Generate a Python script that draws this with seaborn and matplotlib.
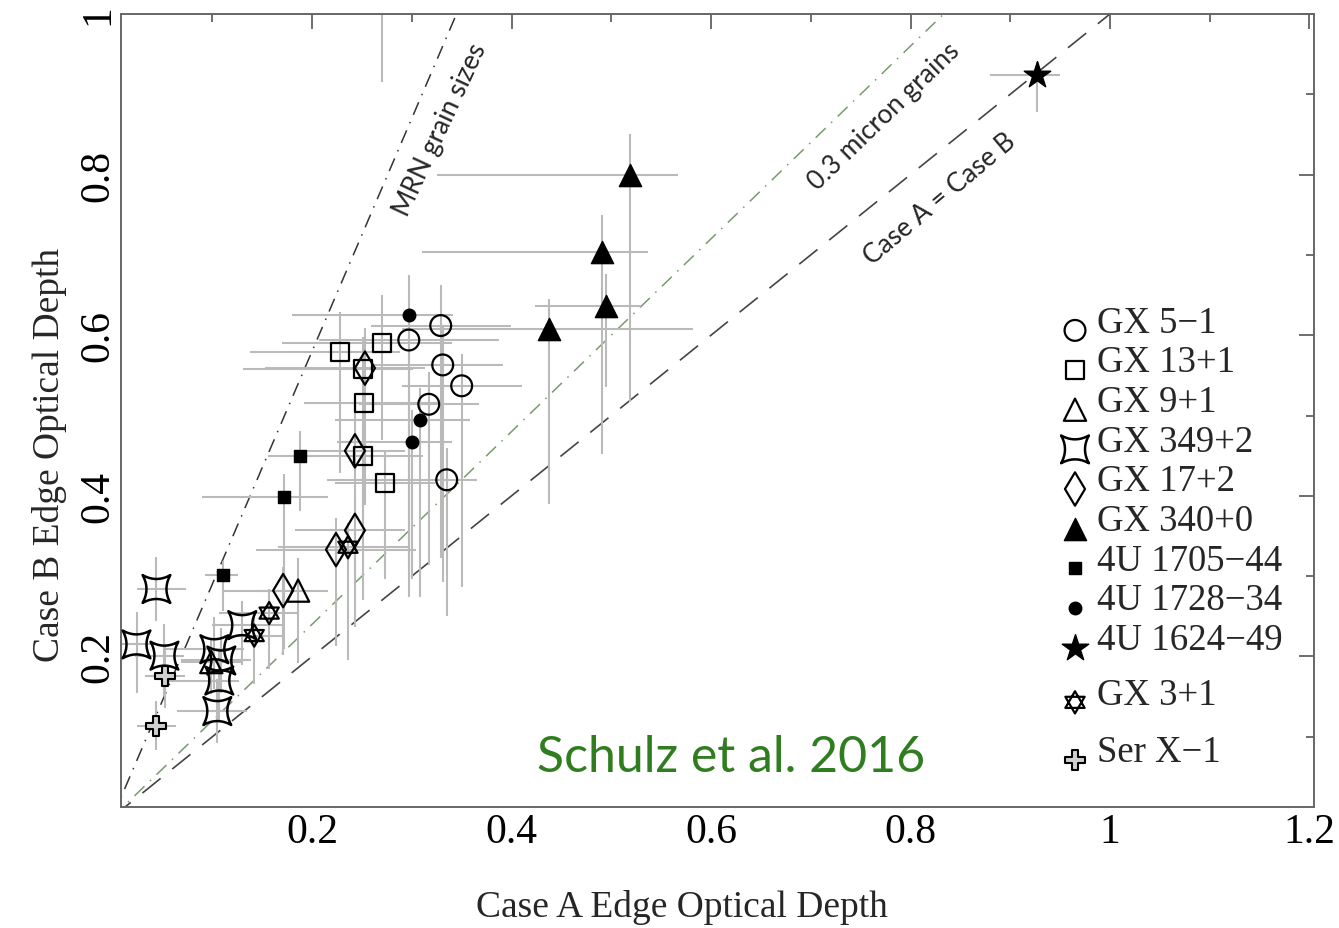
import numpy as np
import matplotlib
matplotlib.use("Agg")
import matplotlib.pyplot as plt
from matplotlib.path import Path
import seaborn as sns

# ---------------- data ----------------
gx51_x = [0.329, 0.297, 0.331, 0.350, 0.317, 0.335]
gx51_y = [0.612, 0.594, 0.563, 0.537, 0.514, 0.420]
gx51_xlo = [0.07, 0.09, 0.07, 0.06, 0.07, 0.12]
gx51_xhi = [0.07, 0.09, 0.06, 0.06, 0.05, 0.03]
gx51_ylo = [0.29, 0.32, 0.27, 0.25, 0.20, 0.17]
gx51_yhi = [0.05, 0.05, 0.05, 0.04, 0.04, 0.04]

gx131_x = [0.228, 0.270, 0.251, 0.252, 0.251, 0.273, 0.270]
gx131_y = [0.579, 0.590, 0.558, 0.516, 0.450, 0.416, 1.080]
gx131_xlo = [0.09, 0.10, 0.12, 0.06, 0.08, 0.05, 0.0]
gx131_xhi = [0.06, 0.07, 0.05, 0.08, 0.06, 0.05, 0.0]
gx131_ylo = [0.15, 0.12, 0.20, 0.12, 0.18, 0.12, 0.165]
gx131_yhi = [0.05, 0.06, 0.04, 0.05, 0.04, 0.04, 0.0]

gx91_x = [0.186, 0.099]
gx91_y = [0.282, 0.193]
gx91_xlo = [0.04, 0.03]
gx91_xhi = [0.03, 0.03]
gx91_ylo = [0.09, 0.04]
gx91_yhi = [0.04, 0.03]

gx349_x = [0.044, 0.024, 0.052, 0.102, 0.109, 0.107, 0.105, 0.130]
gx349_y = [0.284, 0.215, 0.201, 0.209, 0.195, 0.170, 0.132, 0.239]
gx349_xlo = [0.02, 0.02, 0.03, 0.05, 0.04, 0.05, 0.04, 0.03]
gx349_xhi = [0.03, 0.02, 0.02, 0.03, 0.03, 0.02, 0.03, 0.04]
gx349_ylo = [0.04, 0.06, 0.05, 0.05, 0.04, 0.05, 0.04, 0.05]
gx349_yhi = [0.04, 0.04, 0.04, 0.04, 0.04, 0.04, 0.04, 0.03]

gx172_x = [0.253, 0.243, 0.243, 0.224, 0.171]
gx172_y = [0.559, 0.456, 0.357, 0.333, 0.282]
gx172_xlo = [0.10, 0.05, 0.06, 0.08, 0.06]
gx172_xhi = [0.06, 0.05, 0.05, 0.08, 0.03]
gx172_ylo = [0.17, 0.16, 0.12, 0.12, 0.08]
gx172_yhi = [0.05, 0.05, 0.04, 0.04, 0.03]

gx340_x = [0.519, 0.491, 0.495, 0.438]
gx340_y = [0.799, 0.704, 0.636, 0.608]
gx340_xlo = [0.194, 0.181, 0.071, 0.148]
gx340_xhi = [0.048, 0.046, 0.035, 0.144]
gx340_ylo = [0.282, 0.252, 0.101, 0.218]
gx340_yhi = [0.052, 0.046, 0.040, 0.037]

u1705_x = [0.188, 0.172, 0.111]
u1705_y = [0.450, 0.399, 0.302]
u1705_xlo = [0.032, 0.082, 0.018]
u1705_xhi = [0.017, 0.044, 0.015]
u1705_ylo = [0.069, 0.190, 0.045]
u1705_yhi = [0.031, 0.028, 0.017]

u1728_x = [0.297, 0.308, 0.300]
u1728_y = [0.625, 0.494, 0.467]
u1728_xlo = [0.117, 0.085, 0.075]
u1728_xhi = [0.044, 0.050, 0.040]
u1728_ylo = [0.320, 0.220, 0.170]
u1728_yhi = [0.050, 0.040, 0.040]

u1624_x = [0.927]
u1624_y = [0.924]
u1624_xlo = [0.047]
u1624_xhi = [0.023]
u1624_ylo = [0.046]
u1624_yhi = [0.016]

gx31_x = [0.157, 0.142, 0.236]
gx31_y = [0.254, 0.226, 0.336]
gx31_xlo = [0.05, 0.03, 0.07]
gx31_xhi = [0.03, 0.03, 0.06]
gx31_ylo = [0.07, 0.06, 0.14]
gx31_yhi = [0.03, 0.03, 0.03]

serx1_x = [0.053, 0.044]
serx1_y = [0.176, 0.114]
serx1_xlo = [0.02, 0.02]
serx1_xhi = [0.02, 0.02]
serx1_ylo = [0.04, 0.03]
serx1_yhi = [0.04, 0.03]

source_names = ["GX 5\u22121", "GX 13+1", "GX 9+1", "GX 349+2", "GX 17+2",
                "GX 340+0", "4U 1705\u221244", "4U 1728\u221234", "4U 1624\u221249",
                "GX 3+1", "Ser X\u22121"]

line_labels = ["MRN grain sizes", "0.3 micron grains", "Case A = Case B"]
line_slopes = [2.9, 1.2, 1.0]

x_ticks = [0.2, 0.4, 0.6, 0.8, 1.0, 1.2]
x_ticklabels = ["0.2", "0.4", "0.6", "0.8", "1", "1.2"]
y_ticks = [0.2, 0.4, 0.6, 0.8, 1.0]
y_ticklabels = ["0.2", "0.4", "0.6", "0.8", "1"]

# ---------------- custom markers ----------------
def concave_square(depth=0.28, n=12):
    t = np.linspace(-1, 1, n)
    bow = depth * (1 - t ** 2)
    top = np.column_stack([t, 1 - bow])
    right = np.column_stack([1 - bow, -t])
    bottom = np.column_stack([-t, -1 + bow])
    left = np.column_stack([-1 + bow, t])
    v = np.vstack([top, right[1:], bottom[1:], left[1:]])
    return Path(v, closed=True)

def hexagram():
    s = np.sqrt(3) / 2
    verts = [(0, 1), (-s, -0.5), (s, -0.5), (0, 1),
             (0, -1), (-s, 0.5), (s, 0.5), (0, -1)]
    codes = [Path.MOVETO, Path.LINETO, Path.LINETO, Path.CLOSEPOLY] * 2
    return Path(verts, codes)

CSQ = concave_square()
HEX = hexagram()

# ---------------- figure ----------------
sns.set_style("white")
plt.rcParams["font.family"] = ["Liberation Serif", "DejaVu Serif"]

fig = plt.figure(figsize=(13.39, 9.29), dpi=100)
ax = fig.add_axes([0.0904, 0.1302, 0.8909, 0.8537])
ax.set_xlim(0.0085, 1.2045)
ax.set_ylim(0.0125, 1.0)

# reference lines
xx = np.array([0.0, 1.3])
ax.plot(xx, line_slopes[0] * xx, color="#333333", lw=1.1,
        dashes=(9, 5, 1, 5), zorder=1)
ax.plot(xx, line_slopes[1] * xx, color="#7a9a6e", lw=1.1,
        dashes=(9, 5, 1, 5), zorder=1)
ax.plot(xx, line_slopes[2] * xx, color="#444444", lw=1.2,
        dashes=(14, 9), zorder=1)

sources = [
    # x, y, xlo, xhi, ylo, yhi, marker, size, face, edge, lw
    (gx51_x, gx51_y, gx51_xlo, gx51_xhi, gx51_ylo, gx51_yhi, "o", 15, "none", "black", 1.6),
    (gx131_x, gx131_y, gx131_xlo, gx131_xhi, gx131_ylo, gx131_yhi, "s", 13, "none", "black", 1.6),
    (gx91_x, gx91_y, gx91_xlo, gx91_xhi, gx91_ylo, gx91_yhi, "^", 16, "none", "black", 1.6),
    (gx349_x, gx349_y, gx349_xlo, gx349_xhi, gx349_ylo, gx349_yhi, CSQ, 20, "none", "black", 1.8),
    (gx172_x, gx172_y, gx172_xlo, gx172_xhi, gx172_ylo, gx172_yhi, "d", 17, "none", "black", 1.6),
    (gx340_x, gx340_y, gx340_xlo, gx340_xhi, gx340_ylo, gx340_yhi, "^", 16, "black", "black", 1.0),
    (u1705_x, u1705_y, u1705_xlo, u1705_xhi, u1705_ylo, u1705_yhi, "s", 9, "black", "black", 1.0),
    (u1728_x, u1728_y, u1728_xlo, u1728_xhi, u1728_ylo, u1728_yhi, "o", 9, "black", "black", 1.0),
    (u1624_x, u1624_y, u1624_xlo, u1624_xhi, u1624_ylo, u1624_yhi, "*", 20, "black", "black", 1.0),
    (gx31_x, gx31_y, gx31_xlo, gx31_xhi, gx31_ylo, gx31_yhi, HEX, 16, "none", "black", 1.6),
    (serx1_x, serx1_y, serx1_xlo, serx1_xhi, serx1_ylo, serx1_yhi, "P", 15, "#d0d0d0", "black", 1.5),
]

for (x, y, xlo, xhi, ylo, yhi, m, ms, fc, ec, lw) in sources:
    ax.errorbar(x, y, xerr=[xlo, xhi], yerr=[ylo, yhi], fmt="none",
                ecolor="#bababa", elinewidth=1.5, capsize=0, zorder=2)

handles = []
for (x, y, xlo, xhi, ylo, yhi, m, ms, fc, ec, lw) in sources:
    n_before = len(ax.collections)
    sns.scatterplot(x=x, y=y, ax=ax, marker=m, s=ms ** 2, facecolor=fc,
                    edgecolor=ec, linewidth=lw, zorder=3, legend=False)
    handles.append(ax.collections[n_before])

# ---------------- axes styling ----------------
ax.set_xticks(x_ticks)
ax.set_xticklabels(x_ticklabels)
ax.set_xticks(np.arange(0.1, 1.15, 0.2), minor=True)
ax.set_yticks(y_ticks)
ax.set_yticklabels(y_ticklabels, rotation=90, va="center")
ax.set_yticks(np.arange(0.1, 0.95, 0.2), minor=True)
ax.tick_params(which="both", direction="in", top=True, right=True,
               colors="#555555", labelcolor="black", width=1.2)
ax.tick_params(which="major", length=11, labelsize=30)
ax.tick_params(which="minor", length=6)
ax.tick_params(axis="x", which="major", pad=4)
ax.tick_params(axis="y", which="major", pad=3)
for sp in ax.spines.values():
    sp.set_color("#666666")
    sp.set_linewidth(1.4)

ax.set_xlabel("Case A Edge Optical Depth", fontsize=27)
ax.set_ylabel("Case B Edge Optical Depth", fontsize=27)
ax.xaxis.set_label_coords(0.470, -0.103)
ax.yaxis.set_label_coords(-0.045, 0.445)

# ---------------- annotations ----------------
ann_font = ["Lato", "DejaVu Sans"]
ax.text(0.328, 0.857, line_labels[0], rotation=65, fontsize=19,
        family=ann_font, ha="center", va="center", rotation_mode="anchor")
ax.text(0.773, 0.873, line_labels[1], rotation=44, fontsize=19,
        family=ann_font, ha="center", va="center", rotation_mode="anchor")
ax.text(0.829, 0.770, line_labels[2], rotation=40, fontsize=19,
        family=ann_font, ha="center", va="center", rotation_mode="anchor")
ax.text(0.62, 0.075, "Schulz et al. 2016", fontsize=36, color="#2f7d1f",
        family=ann_font, ha="center", va="center")

# ---------------- legend ----------------
leg_kw = dict(loc="upper left", frameon=False, fontsize=26.5,
              handlelength=0.6, handletextpad=0.3, borderpad=0.0,
              scatteryoffsets=[0.05])
leg1 = ax.legend(handles[:9], source_names[:9],
                 bbox_to_anchor=(0.775, 0.656), labelspacing=0.14, **leg_kw)
ax.add_artist(leg1)
ax.legend(handles[9:], source_names[9:],
          bbox_to_anchor=(0.775, 0.187), labelspacing=0.63, **leg_kw)

fig.savefig("out.png", dpi=100)
